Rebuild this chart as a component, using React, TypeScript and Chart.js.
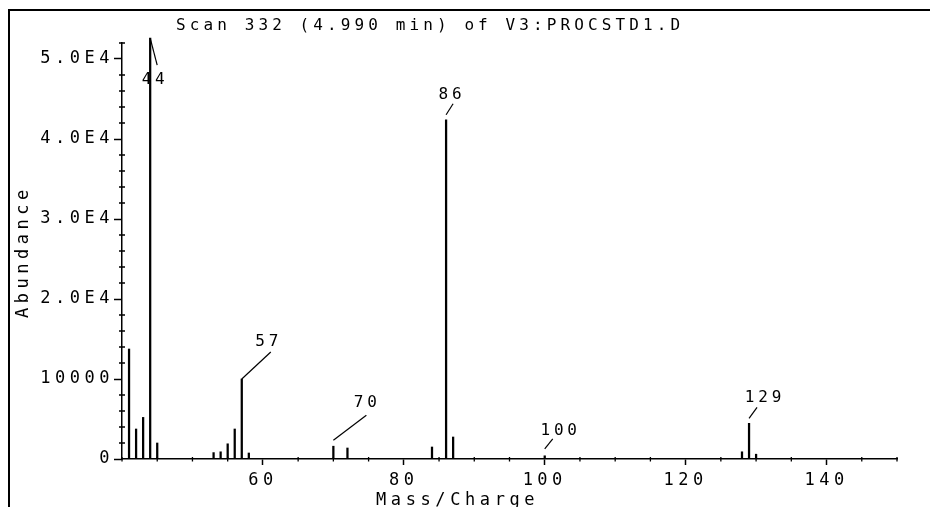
import React, { useEffect, useRef } from 'react';
import { Chart, registerables } from 'chart.js';

Chart.register(...registerables);

// ---- data ----
const massToCharge = [41, 42, 43, 44, 45, 53, 54, 55, 56, 57, 58, 70, 72, 84, 86, 87, 100, 128, 129, 130];
const abundance = [13750, 3750, 5200, 52600, 2000, 800, 900, 1900, 3750, 10000, 750, 1600, 1375, 1500, 42400, 2750, 400, 900, 4460, 600];

const xTickValues = [60, 80, 100, 120, 140];
const xTickLabels = ['60', '80', '100', '120', '140'];
const yTickValues = [0, 10000, 20000, 30000, 40000, 50000];
const yTickLabels = ['0', '10000', '2.0E4', '3.0E4', '4.0E4', '5.0E4'];

const labeledPeaks = [44, 57, 70, 86, 100, 129];

const titleText = 'Scan 332 (4.990 min) of V3:PROCSTD1.D';
const xTitleText = 'Mass/Charge';
const yTitleText = 'Abundance';

// ---- label leader styling (pixel offsets, not data) ----
const leaderGap = [0, 0, 6, 5, 7, 5];
const leaderDx = [7, 29, 33, 7, 8, 8];
const leaderDy = [27, -27, -25, -11, -10, -11];
const textDx = [-4, -4, -1, -3, 6, 6];
const textDy = [13, -12, -14, -11, -10, -11];

const FONT = "'DejaVu Sans Mono', monospace";
const SPACING = 4.5;

function drawSpaced(ctx: CanvasRenderingContext2D, text: string, x: number, capMidY: number, size: number, spacing: number, align: 'left' | 'center') {
  ctx.font = `${size}px ${FONT}`;
  (ctx as any).letterSpacing = `${spacing}px`;
  ctx.textAlign = 'left';
  ctx.textBaseline = 'alphabetic';
  const w = ctx.measureText(text).width - spacing;
  const x0 = align === 'center' ? x - w / 2 : x;
  ctx.fillText(text, x0, capMidY + size * 0.729 / 2);
}

const decorPlugin = {
  id: 'decor',
  beforeLayout(chart: any) {
    chart.ctx.letterSpacing = `${SPACING}px`;
  },
  beforeDraw(chart: any) {
    chart.ctx.letterSpacing = `${SPACING}px`;
  },
  afterDraw(chart: any) {
    const { ctx, chartArea, scales } = chart;
    const xs = scales.x;
    const ys = scales.y;
    ctx.save();
    ctx.strokeStyle = '#000';
    ctx.fillStyle = '#000';

    // outer frame (top and left)
    ctx.lineWidth = 2;
    ctx.beginPath();
    ctx.moveTo(9, chart.height);
    ctx.lineTo(9, 10);
    ctx.lineTo(chart.width, 10);
    ctx.stroke();

    // minor ticks
    ctx.lineWidth = 1.3;
    ctx.beginPath();
    ys.ticks.forEach((t: any) => {
      if (yTickValues.indexOf(t.value) === -1) {
        const y = ys.getPixelForValue(t.value);
        ctx.moveTo(chartArea.left - 3, y);
        ctx.lineTo(chartArea.left + 3, y);
      }
    });
    xs.ticks.forEach((t: any) => {
      if (xTickValues.indexOf(t.value) === -1) {
        const x = xs.getPixelForValue(t.value);
        ctx.moveTo(x, chartArea.bottom - 2);
        ctx.lineTo(x, chartArea.bottom + 2.5);
      }
    });
    ctx.stroke();

    // peak labels with leader lines
    ctx.lineWidth = 1.2;
    labeledPeaks.forEach((m, i) => {
      const idx = massToCharge.indexOf(m);
      const px = xs.getPixelForValue(m);
      const py = ys.getPixelForValue(abundance[idx]) - leaderGap[i];
      const ex = px + leaderDx[i];
      const ey = py + leaderDy[i];
      ctx.beginPath();
      ctx.moveTo(px, py);
      ctx.lineTo(ex, ey);
      ctx.stroke();
      drawSpaced(ctx, String(m), ex + textDx[i], ey + textDy[i], 16, 3.8, 'center');
    });

    // title
    drawSpaced(ctx, titleText, 176, 24, 16, 4.1, 'left');
    // x axis title
    drawSpaced(ctx, xTitleText, 376, 499, 17, 4.6, 'left');
    // y axis title (rotated)
    ctx.save();
    ctx.translate(22, 318);
    ctx.rotate(-Math.PI / 2);
    drawSpaced(ctx, yTitleText, 0, 0, 17, 4.5, 'left');
    ctx.restore();

    ctx.restore();
  },
};

export default function App() {
  const canvasRef = useRef<HTMLCanvasElement | null>(null);

  useEffect(() => {
    if (!canvasRef.current) return;
    Chart.defaults.font.family = FONT;
    Chart.defaults.color = '#000';
    const chart = new Chart(canvasRef.current, {
      type: 'bar',
      data: {
        datasets: [
          {
            data: massToCharge.map((m, i) => ({ x: m, y: abundance[i] })),
            backgroundColor: '#000',
            borderWidth: 0,
            barThickness: 1.6,
            clip: false as any,
          },
        ],
      },
      options: {
        animation: false,
        responsive: true,
        maintainAspectRatio: false,
        layout: { padding: { top: 43, right: 33, bottom: 18, left: 0 } },
        plugins: {
          legend: { display: false },
          tooltip: { enabled: false },
          title: { display: false },
        },
        scales: {
          x: {
            type: 'linear',
            min: 40,
            max: 150,
            offset: false,
            afterFit: (s: any) => { s.height = 30; },
            border: { display: true, color: '#000', width: 1.5 },
            grid: {
              display: true,
              offset: false,
              drawOnChartArea: false,
              drawTicks: true,
              tickLength: 6,
              tickWidth: 1.5,
              tickColor: (c: any) => (c.tick && xTickValues.indexOf(c.tick.value) !== -1 ? '#000' : 'rgba(0,0,0,0)'),
            },
            ticks: {
              stepSize: 5,
              autoSkip: false,
              maxRotation: 0,
              padding: 5,
              font: { size: 17, family: FONT },
              color: '#000',
              callback: (v: any) => {
                const k = xTickValues.indexOf(Number(v));
                return k === -1 ? '' : xTickLabels[k];
              },
            },
          },
          y: {
            type: 'linear',
            min: 0,
            max: 52000,
            afterFit: (s: any) => { s.width = 122; },
            border: { display: true, color: '#000', width: 1.5 },
            grid: {
              display: true,
              drawOnChartArea: false,
              drawTicks: true,
              tickLength: 8,
              tickWidth: 1.5,
              tickColor: (c: any) => (c.tick && yTickValues.indexOf(c.tick.value) !== -1 ? '#000' : 'rgba(0,0,0,0)'),
            },
            ticks: {
              stepSize: 2000,
              autoSkip: false,
              padding: 0,
              font: { size: 17, family: FONT },
              color: '#000',
              callback: (v: any) => {
                const k = yTickValues.indexOf(Number(v));
                return k === -1 ? '' : yTickLabels[k];
              },
            },
          },
        },
      },
      plugins: [decorPlugin as any],
    });
    return () => chart.destroy();
  }, []);

  return (
    <div style={{ position: 'fixed', left: 0, top: 0, width: 930, height: 507, background: '#fff' }}>
      <canvas ref={canvasRef} />
    </div>
  );
}
